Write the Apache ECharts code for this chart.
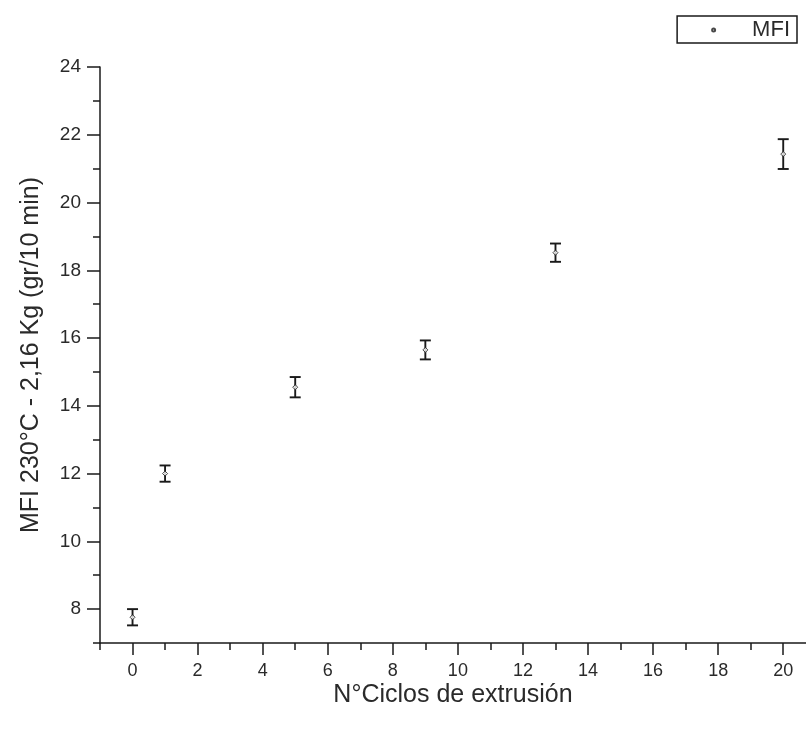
<!DOCTYPE html>
<html>
<head>
<meta charset="utf-8">
<script src="https://cdn.jsdelivr.net/npm/echarts@6/dist/echarts.min.js"></script>
<style>html,body{margin:0;padding:0;background:#fff}#c{width:806px;height:729px}</style>
</head>
<body>
<div id="c"></div>
<script>
// Data
var cycles = [0, 1, 5, 9, 13, 20];
var mfi = [7.76, 12.0, 14.55, 15.65, 18.52, 21.43];
var mfiErr = [0.24, 0.24, 0.30, 0.28, 0.27, 0.44];
var xMajorTicks = [0, 2, 4, 6, 8, 10, 12, 14, 16, 18, 20];
var xMinorTicks = [-1, 1, 3, 5, 7, 9, 11, 13, 15, 17, 19];
var yMajorTicks = [8, 10, 12, 14, 16, 18, 20, 22, 24];
var yMinorTicks = [7, 9, 11, 13, 15, 17, 19, 21, 23];

var pts = cycles.map(function (c, i) { return [c, mfi[i]]; });
var bars = cycles.map(function (c, i) { return [c, mfi[i] - mfiErr[i], mfi[i] + mfiErr[i]]; });

var FONT = '"Liberation Sans", Arial, sans-serif';
var INK = '#1a1a1a';
var TXT = '#2a2a2a';
var chart = echarts.init(document.getElementById('c'));
var xMin = -1, xMax = 20.7, yMin = 7, yMax = 24;

chart.setOption({
  animation: false,
  backgroundColor: '#fff',
  grid: { left: 100, right: 0, top: 67, bottom: 86 },
  legend: {
    data: ['MFI'], right: 9, top: 16,
    icon: 'circle', itemWidth: 3, itemHeight: 3,
    borderColor: INK, borderWidth: 1.5, borderRadius: 0,
    padding: [3, 7, 2, 34],
    textStyle: { fontFamily: FONT, fontSize: 22, color: TXT, padding: [0, 0, 0, 32] }
  },
  xAxis: [{
    type: 'value', min: xMin, max: xMax, position: 'bottom',
    axisLine: { onZero: false, lineStyle: { color: INK, width: 1.5 } },
    axisTick: { show: true, inside: false, length: 12, customValues: xMajorTicks, lineStyle: { color: INK, width: 1.5 } },
    axisLabel: { customValues: xMajorTicks, margin: 19, fontFamily: FONT, fontSize: 18, color: TXT },
    splitLine: { show: false },
    name: 'N°Ciclos de extrusión', nameLocation: 'middle', nameGap: 40, nameMoveOverlap: false,
    nameTextStyle: { fontFamily: FONT, fontSize: 25, color: TXT }
  }, {
    type: 'value', min: xMin, max: xMax, position: 'bottom',
    axisLine: { show: false, onZero: false },
    axisTick: { show: true, length: 7, customValues: xMinorTicks, lineStyle: { color: INK, width: 1.5 } },
    axisLabel: { show: false }, splitLine: { show: false }
  }],
  yAxis: [{
    type: 'value', min: yMin, max: yMax, position: 'left',
    axisLine: { show: true, onZero: false, lineStyle: { color: INK, width: 1.5 } },
    axisTick: { show: true, length: 13, customValues: yMajorTicks, lineStyle: { color: INK, width: 1.5 } },
    axisLabel: { customValues: yMajorTicks, margin: 19, fontFamily: FONT, fontSize: 19, color: TXT },
    splitLine: { show: false },
    name: 'MFI 230°C - 2,16 Kg (gr/10 min)', nameLocation: 'middle', nameGap: 56, nameRotate: 90,
    nameTextStyle: { fontFamily: FONT, fontSize: 25, color: TXT }
  }, {
    type: 'value', min: yMin, max: yMax, position: 'left',
    axisLine: { show: false, onZero: false },
    axisTick: { show: true, length: 7, customValues: yMinorTicks, lineStyle: { color: INK, width: 1.5 } },
    axisLabel: { show: false }, splitLine: { show: false }
  }],
  series: [{
    name: 'MFI', type: 'scatter', data: pts,
    symbol: 'diamond', symbolSize: 5,
    itemStyle: { color: '#fff', borderColor: INK, borderWidth: 1 },
    z: 3
  }, {
    name: 'err', type: 'custom', data: bars,
    encode: { x: 0, y: [1, 2] },
    renderItem: function (params, api) {
      var x = api.value(0);
      var lo = api.coord([x, api.value(1)]);
      var hi = api.coord([x, api.value(2)]);
      var w = 5.5;
      var st = { stroke: INK, lineWidth: 1.9 };
      return {
        type: 'group',
        children: [
          { type: 'line', shape: { x1: lo[0], y1: lo[1], x2: hi[0], y2: hi[1] }, style: st },
          { type: 'line', shape: { x1: lo[0] - w, y1: lo[1], x2: lo[0] + w, y2: lo[1] }, style: st },
          { type: 'line', shape: { x1: hi[0] - w, y1: hi[1], x2: hi[0] + w, y2: hi[1] }, style: st }
        ]
      };
    },
    z: 2
  }]
});
</script>
</body>
</html>
